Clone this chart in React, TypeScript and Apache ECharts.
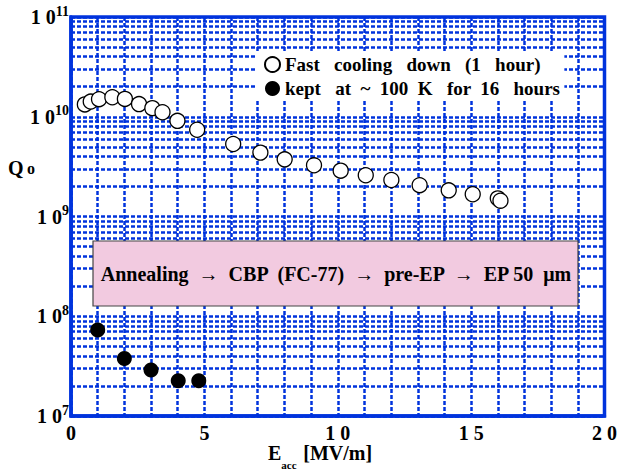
import { useEffect, useRef } from 'react';
import * as echarts from 'echarts';

const fastX = [0.52, 0.74, 1.05, 1.55, 2.02, 2.55, 3.05, 3.43, 3.99, 4.73, 6.08, 7.1, 8.01, 9.11, 10.11, 11.05, 12.01, 13.07, 14.16, 15.06, 16.0, 16.1];
const fastQ = [1.33e10, 1.42e10, 1.5e10, 1.57e10, 1.51e10, 1.34e10, 1.22e10, 1.11e10, 9.1e9, 7.4e9, 5.33e9, 4.37e9, 3.74e9, 3.26e9, 2.88e9, 2.59e9, 2.32e9, 2.06e9, 1.83e9, 1.67e9, 1.52e9, 1.44e9];
const keptX = [1.0, 2.0, 3.0, 4.02, 4.79];
const keptQ = [7.3e7, 3.78e7, 2.89e7, 2.26e7, 2.26e7];
const decadeExponents = [7, 8, 9, 10];
const minorMultipliers = [2, 3, 4, 5, 6, 7, 8, 9];
const fastName = 'Fast   cooling   down   (1   hour)';
const keptName = 'kept   at  ~  100  K   for  16   hours';
const processText = 'Annealing  \u2192  CBP  (FC-77)  \u2192  pre-EP  \u2192  EP 50  \u03bcm';

const BLUE = '#0033dd';
const FONT = 'Liberation Serif';

export default function App() {
  const ref = useRef<HTMLDivElement>(null);
  useEffect(() => {
    if (!ref.current) return;
    const chart = echarts.init(ref.current, undefined, { renderer: 'svg' });
    const minorLines: any[] = [];
    decadeExponents.forEach((e) => minorMultipliers.forEach((m) => minorLines.push({ yAxis: m * Math.pow(10, e) })));
    const gridLine = { show: true, lineStyle: { color: BLUE, width: 2.5, type: [4, 2] as any } };
    chart.setOption({
      animation: false,
      textStyle: { fontFamily: FONT },
      grid: { left: 71, top: 17, right: 15, bottom: 55, show: true, borderColor: BLUE, borderWidth: 3.5, backgroundColor: 'transparent' },
      xAxis: {
        type: 'value', min: 0, max: 20, interval: 1,
        axisLine: { lineStyle: { color: BLUE, width: 3.5 } },
        axisTick: { show: false },
        splitLine: gridLine,
        axisLabel: {
          margin: 7, color: '#000', fontFamily: FONT, fontWeight: 'bold', fontSize: 20,
          formatter: (v: number) => (v % 5 === 0 ? String(v).split('').join(' ') : ''),
        },
      },
      yAxis: {
        type: 'log', logBase: 10, min: 1e7, max: 1e11,
        axisLine: { lineStyle: { color: BLUE, width: 3.5 } },
        axisTick: { show: false },
        splitLine: gridLine,
        axisLabel: {
          margin: 2,
          formatter: (v: number) => `{a|1 0}{s|${Math.round(Math.log10(v))}}`,
          rich: {
            a: { fontFamily: FONT, fontWeight: 'bold', fontSize: 20, color: '#000', lineHeight: 26 },
            s: { fontFamily: FONT, fontWeight: 'bold', fontSize: 14, color: '#000', lineHeight: 14, verticalAlign: 'top' },
          },
        },
      },
      legend: {
        data: [fastName, keptName],
        z: 50,
        orient: 'vertical', left: 256, top: 52,
        itemWidth: 15, itemHeight: 15, itemGap: 5, itemTextGap: 9,
        backgroundColor: '#fff', padding: [3, 4, 3, 8],
        textStyle: { fontFamily: FONT, fontWeight: 'bold', fontSize: 19, color: '#000' },
      },
      series: [
        {
          type: 'line', data: [], z: 1, silent: true,
          markLine: { silent: true, z: 1, symbol: ['none', 'none'], label: { show: false }, lineStyle: { color: BLUE, width: 2.5, type: [4, 2] as any }, data: minorLines },
        },
        {
          name: fastName, type: 'scatter', symbol: 'circle', symbolSize: 15, z: 3,
          itemStyle: { color: '#fff', borderColor: '#000', borderWidth: 1.3, opacity: 1 },
          data: fastX.map((x, i) => [x, fastQ[i]]),
        },
        {
          name: keptName, type: 'scatter', symbol: 'circle', symbolSize: 15, z: 3,
          itemStyle: { color: '#000', opacity: 1 },
          data: keptX.map((x, i) => [x, keptQ[i]]),
        },
      ],
      graphic: [
        { type: 'rect', z: 100, shape: { x: 93, y: 241, width: 485, height: 65 }, style: { fill: '#f2cae0', stroke: '#444', lineWidth: 1.2 } },
        { type: 'text', z: 101, x: 336, y: 274, style: { text: processText, font: `bold 20px ${FONT}`, fill: '#000', align: 'center', verticalAlign: 'middle' } },
        {
          type: 'text', z: 101, x: 8, y: 168,
          style: {
            text: '{q|Q} {o|o}', verticalAlign: 'middle',
            rich: { q: { fontFamily: FONT, fontWeight: 'bold', fontSize: 20, fill: '#000' }, o: { fontFamily: FONT, fontWeight: 'bold', fontSize: 16, fill: '#000' } },
          },
        },
        {
          type: 'text', z: 101, x: 268, y: 443,
          style: {
            text: '{e|E}{s|acc}  {e|[MV/m]}', verticalAlign: 'top',
            rich: {
              e: { fontFamily: FONT, fontWeight: 'bold', fontSize: 20, fill: '#000', lineHeight: 27, verticalAlign: 'top' },
              s: { fontFamily: FONT, fontWeight: 'bold', fontSize: 11, fill: '#000', lineHeight: 12, verticalAlign: 'bottom' },
            },
          },
        },
      ],
    });
    return () => chart.dispose();
  }, []);
  return <div ref={ref} style={{ position: 'absolute', left: 0, top: 0, width: 620, height: 471 }} />;
}
